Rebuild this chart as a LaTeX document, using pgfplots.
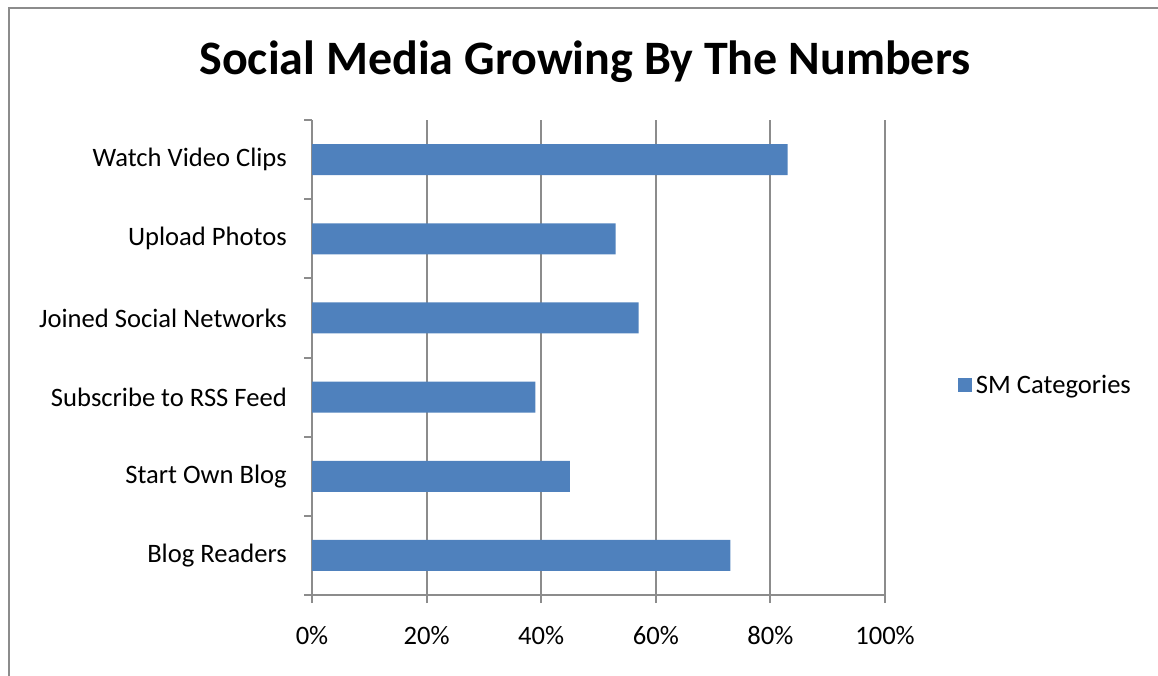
\documentclass[border=0pt]{standalone}
\usepackage{pgfplots}
\pgfplotsset{compat=1.18}
\usepackage{fontspec}
\setmainfont{Carlito}
\definecolor{barblue}{HTML}{4F81BD}
\definecolor{gridgray}{HTML}{8C8C8C}
\begin{document}
\begin{tikzpicture}
\useasboundingbox (0,0) rectangle (1158pt,675pt);
\draw[gridgray, line width=2pt] (9pt,-20pt) -- (9pt,667pt) -- (1180pt,667pt);
\node[anchor=base, font=\fontsize{48}{57}\selectfont\bfseries] at (585pt,600pt) {Social Media Growing By The Numbers};
\begin{axis}[
  at={(312pt,80pt)}, anchor=south west,
  scale only axis, width=573pt, height=475pt,
  xbar, bar width=31pt,
  xmin=0, xmax=100, ymin=-0.5, ymax=5.5,
  axis x line=bottom, axis y line=left,
  axis line style={gridgray, line width=2pt, -},
  xtick={0,20,40,60,80,100},
  xticklabels={0\%,20\%,40\%,60\%,80\%,100\%},
  ytick={-0.5,0.5,1.5,2.5,3.5,4.5,5.5},
  yticklabels={,Blog Readers,Start Own Blog,Subscribe to RSS Feed,Joined Social Networks,Upload Photos,Watch Video Clips},
  tick style={gridgray, line width=2pt},
  tick align=outside, major tick length=8pt,
  xmajorgrids, major grid style={gridgray, line width=2pt},
  ticklabel style={font=\fontsize{26.6}{32}\selectfont},
  xticklabel style={anchor=base, yshift=-41pt},
  yticklabel style={anchor=east, inner sep=0pt, xshift=-17pt, yshift=-39.6pt},
  /pgf/number format/assume math mode=true,
  clip=false,
  area legend,
  legend image code/.code={\fill[#1] (0pt,-7pt) rectangle (14pt,7pt);},
  legend style={draw=none, fill=none, at={(1.127,0.442)}, anchor=west, inner sep=0pt,
    font=\fontsize{26.6}{32}\selectfont, nodes={inner sep=4pt}},
]
\addplot[fill=barblue, draw=none] coordinates {(73,0) (45,1) (39,2) (57,3) (53,4) (83,5)};
\addlegendentry{SM Categories}
\end{axis}
\end{tikzpicture}
\end{document}
